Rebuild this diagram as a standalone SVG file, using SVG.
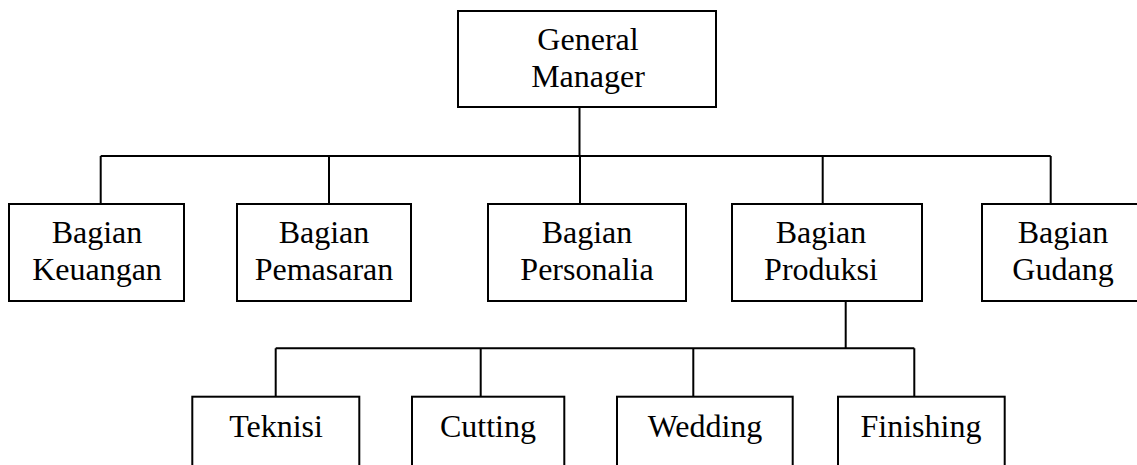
<svg xmlns="http://www.w3.org/2000/svg" width="1137" height="465" viewBox="0 0 1137 465">
<style>
.box{fill:#fff;stroke:#000;stroke-width:2}
.ln{fill:none;stroke:#000;stroke-width:2}
text{font-family:"Liberation Serif","Times New Roman",serif;font-size:32px;fill:#000;text-anchor:middle}
</style>
<rect width="1137" height="465" fill="#fff"/>
<g id="connectors">
<path class="ln" d="M579.5 107V156M100.7 156H1050.7M100.7 156V204M329 156V204M580 156V204M822.7 156V204M1050.7 156V204"/>
<path class="ln" d="M845.7 301V348.3M275.7 348.3H914.3M275.7 348.3V396.7M480.7 348.3V396.7M693.3 348.3V396.7M914.3 348.3V396.7"/>
</g>
<g id="gm"><rect class="box" x="458" y="11" width="258" height="96"/><text x="588" y="50">General</text><text x="588" y="87">Manager</text></g>
<g id="keuangan"><rect class="box" x="9" y="204" width="175" height="97"/><text x="97" y="243">Bagian</text><text x="97" y="280">Keuangan</text></g>
<g id="pemasaran"><rect class="box" x="237" y="204" width="174" height="97"/><text x="324" y="243">Bagian</text><text x="324" y="280">Pemasaran</text></g>
<g id="personalia"><rect class="box" x="488" y="204" width="198" height="97"/><text x="587" y="243">Bagian</text><text x="587" y="280">Personalia</text></g>
<g id="produksi"><rect class="box" x="732" y="204" width="190" height="97"/><text x="821" y="243">Bagian</text><text x="821" y="280">Produksi</text></g>
<g id="gudang"><rect class="box" x="982" y="204" width="162" height="97"/><text x="1063" y="243">Bagian</text><text x="1063" y="280">Gudang</text></g>
<g id="teknisi"><rect class="box" x="192.3" y="396.7" width="167" height="97"/><text x="276" y="437">Teknisi</text></g>
<g id="cutting"><rect class="box" x="412" y="396.7" width="152.3" height="97"/><text x="488" y="437">Cutting</text></g>
<g id="wedding"><rect class="box" x="617" y="396.7" width="175.7" height="97"/><text x="705" y="437">Wedding</text></g>
<g id="finishing"><rect class="box" x="838" y="396.7" width="166.7" height="97"/><text x="921" y="437">Finishing</text></g>
</svg>
